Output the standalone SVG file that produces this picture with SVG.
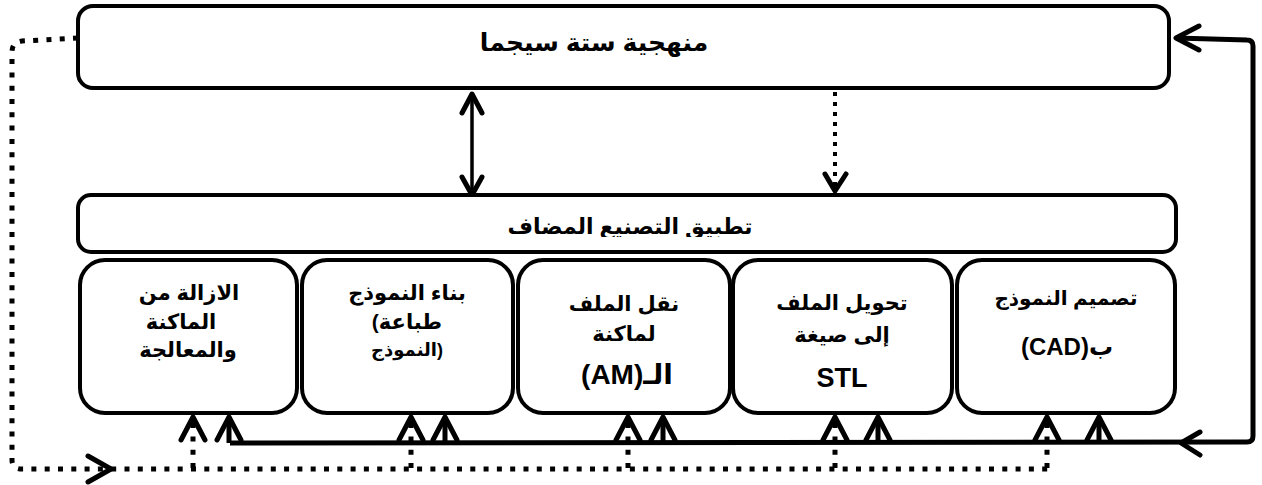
<svg xmlns="http://www.w3.org/2000/svg" width="1262" height="485" viewBox="0 0 1262 485">
<style>
.box{fill:#fff;stroke:#000;stroke-width:4}
.t{font-family:'Liberation Sans','DejaVu Sans',sans-serif;font-weight:bold;fill:#000;text-anchor:middle}
.solid{fill:none;stroke:#000;stroke-width:5}
.dot{fill:none;stroke:#000;stroke-width:5;stroke-dasharray:5 8.3}
.head{fill:none;stroke:#000;stroke-width:5;stroke-linecap:round;stroke-linejoin:round}
</style>
<defs>
<clipPath id="clipApp"><rect x="78" y="195" width="1098" height="42"/></clipPath>
</defs>
<g id="connectors">
  <line x1="472" y1="94" x2="472" y2="194" stroke="#000" stroke-width="3.5"/>
  <path class="head" stroke-width="4" d="M462,113 L472,94 L482,113 M462,177 L472,195 L482,177"/>
  <line x1="835" y1="92" x2="835" y2="190" stroke="#000" stroke-width="4" stroke-dasharray="4 6"/>
  <path class="head" stroke-width="4.5" d="M825,174 L835,191 L846,174"/>
  <path class="solid" d="M1176,38 L1247,40 Q1253,40 1253,46 L1253,436 Q1253,442 1247,442 L230,443"/>
  <path class="head" d="M1199,26 L1176,38 L1199,50 M1200,432 L1181,443 L1200,455"/>
  <path class="solid" d="M229,443 L229,417 M445,443 L445,417 M663,443 L663,417 M878,443 L878,417 M1099,443 L1099,417"/>
  <path class="head" d="M217,440 L229,417 L241,440 M433,440 L445,417 L457,440 M651,440 L663,417 L675,440 M866,440 L878,417 L890,440 M1087,440 L1099,417 L1111,440"/>
  <path class="dot" d="M78,38 L22,41 Q12,42 12,52 L12,460 Q12,469 22,469 L1048,469"/>
  <path class="head" d="M88,456 L111,469 L88,482"/>
  <path class="dot" d="M193,468 L193,420 M411,468 L411,420 M628,468 L628,420 M835,468 L835,420 M1047,468 L1047,420"/>
  <path class="head" d="M181,440 L193,417 L205,440 M399,440 L411,417 L423,440 M616,440 L628,417 L640,440 M823,440 L835,417 L847,440 M1035,440 L1047,417 L1059,440"/>
</g>
<g id="six-sigma">
  <rect class="box" x="78" y="6" width="1091" height="82" rx="15"/>
  <text class="t" x="594" y="51" font-size="25">منهجية ستة سيجما</text>
</g>
<g id="am-application">
  <rect class="box" x="78" y="195" width="1098" height="57" rx="13"/>
  <text class="t" x="630" y="234" font-size="22" clip-path="url(#clipApp)">تطبيق التصنيع المضاف</text>
</g>
<g id="remove-postprocess">
  <rect class="box" x="80" y="260" width="217" height="153" rx="25"/>
  <text class="t" x="189" y="300" font-size="21">الازالة من</text>
  <text class="t" x="181" y="329" font-size="21">الماكنة</text>
  <text class="t" x="188" y="357" font-size="21">والمعالجة</text>
</g>
<g id="build-model">
  <rect class="box" x="302" y="260" width="211" height="153" rx="25"/>
  <text class="t" x="407" y="300" font-size="21">بناء النموذج</text>
  <text class="t" x="407" y="329" font-size="21">(طباعة</text>
  <text class="t" x="407" y="356" font-size="18">النموذج)</text>
</g>
<g id="transfer-file">
  <rect class="box" x="518" y="260" width="212" height="153" rx="25"/>
  <text class="t" x="624" y="311" font-size="21">نقل الملف</text>
  <text class="t" x="624" y="341" font-size="21">لماكنة</text>
  <text class="t" x="627" y="384" font-size="28" direction="rtl">الـ(AM)</text>
</g>
<g id="convert-stl">
  <rect class="box" x="733" y="260" width="219" height="153" rx="25"/>
  <text class="t" x="842" y="310" font-size="21">تحويل الملف</text>
  <text class="t" x="842" y="342" font-size="21">إلى صيغة</text>
  <text class="t" x="842" y="387" font-size="27">STL</text>
</g>
<g id="design-cad">
  <rect class="box" x="957" y="260" width="218" height="153" rx="25"/>
  <text class="t" x="1066" y="305" font-size="20">تصميم النموذج</text>
  <text class="t" x="1067" y="355" font-size="24" direction="rtl">ب(CAD)</text>
</g>
</svg>
